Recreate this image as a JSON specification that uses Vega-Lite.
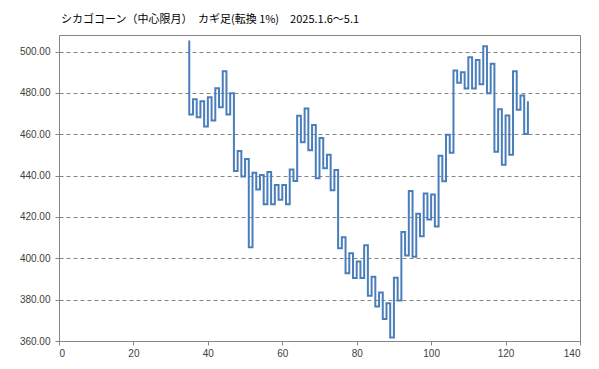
{
  "$schema": "https://vega.github.io/schema/vega-lite/v6.json",
  "autosize": {"type": "none"},
  "width": 521,
  "height": 306,
  "padding": {"left": 59, "top": 35, "right": 19, "bottom": 28},
  "background": "white",
  "title": {
    "text": "シカゴコーン（中心限月）　カギ足(転換 1%)　2025.1.6～5.1",
    "anchor": "start",
    "frame": "group",
    "offset": 10,
    "font": "Noto Sans CJK JP",
    "fontSize": 11,
    "fontWeight": "normal",
    "color": "#000000",
    "dx": 2
  },
  "config": {
    "view": {"stroke": "#868686", "strokeWidth": 1},
    "axis": {
      "labelFont": "Liberation Sans",
      "labelFontSize": 10,
      "labelColor": "#404040",
      "tickColor": "#868686",
      "domainColor": "#868686",
      "tickSize": 4,
      "title": null
    }
  },
  "data": {
    "values": [
      {"i": 0, "x": 35, "p": 505.3},
      {"i": 1, "x": 35, "p": 469.5},
      {"i": 2, "x": 36, "p": 476.9},
      {"i": 3, "x": 37, "p": 468.2},
      {"i": 4, "x": 38, "p": 475.9},
      {"i": 5, "x": 39, "p": 463.8},
      {"i": 6, "x": 40, "p": 477.9},
      {"i": 7, "x": 41, "p": 466.6},
      {"i": 8, "x": 42, "p": 482.2},
      {"i": 9, "x": 43, "p": 473.0},
      {"i": 10, "x": 44, "p": 490.5},
      {"i": 11, "x": 45, "p": 469.5},
      {"i": 12, "x": 46, "p": 479.8},
      {"i": 13, "x": 47, "p": 442.2},
      {"i": 14, "x": 48, "p": 451.9},
      {"i": 15, "x": 49, "p": 439.6},
      {"i": 16, "x": 50, "p": 448.0},
      {"i": 17, "x": 51, "p": 405.4},
      {"i": 18, "x": 52, "p": 441.4},
      {"i": 19, "x": 53, "p": 433.3},
      {"i": 20, "x": 54, "p": 440.3},
      {"i": 21, "x": 55, "p": 426.1},
      {"i": 22, "x": 56, "p": 441.7},
      {"i": 23, "x": 57, "p": 426.1},
      {"i": 24, "x": 58, "p": 435.4},
      {"i": 25, "x": 59, "p": 428.3},
      {"i": 26, "x": 60, "p": 435.4},
      {"i": 27, "x": 61, "p": 426.1},
      {"i": 28, "x": 62, "p": 442.9},
      {"i": 29, "x": 63, "p": 437.4},
      {"i": 30, "x": 64, "p": 469.0},
      {"i": 31, "x": 65, "p": 456.1},
      {"i": 32, "x": 66, "p": 472.4},
      {"i": 33, "x": 67, "p": 452.2},
      {"i": 34, "x": 68, "p": 464.5},
      {"i": 35, "x": 69, "p": 438.7},
      {"i": 36, "x": 70, "p": 458.2},
      {"i": 37, "x": 71, "p": 443.5},
      {"i": 38, "x": 72, "p": 450.1},
      {"i": 39, "x": 73, "p": 432.9},
      {"i": 40, "x": 74, "p": 442.7},
      {"i": 41, "x": 75, "p": 404.9},
      {"i": 42, "x": 76, "p": 410.2},
      {"i": 43, "x": 77, "p": 392.8},
      {"i": 44, "x": 78, "p": 402.4},
      {"i": 45, "x": 79, "p": 390.5},
      {"i": 46, "x": 80, "p": 398.5},
      {"i": 47, "x": 81, "p": 390.5},
      {"i": 48, "x": 82, "p": 406.3},
      {"i": 49, "x": 83, "p": 381.9},
      {"i": 50, "x": 84, "p": 391.1},
      {"i": 51, "x": 85, "p": 376.7},
      {"i": 52, "x": 86, "p": 383.5},
      {"i": 53, "x": 87, "p": 370.6},
      {"i": 54, "x": 88, "p": 378.2},
      {"i": 55, "x": 89, "p": 361.7},
      {"i": 56, "x": 90, "p": 390.6},
      {"i": 57, "x": 91, "p": 379.6},
      {"i": 58, "x": 92, "p": 412.7},
      {"i": 59, "x": 93, "p": 401.4},
      {"i": 60, "x": 94, "p": 432.6},
      {"i": 61, "x": 95, "p": 400.7},
      {"i": 62, "x": 96, "p": 421.6},
      {"i": 63, "x": 97, "p": 410.7},
      {"i": 64, "x": 98, "p": 431.3},
      {"i": 65, "x": 99, "p": 418.8},
      {"i": 66, "x": 100, "p": 430.8},
      {"i": 67, "x": 101, "p": 415.4},
      {"i": 68, "x": 102, "p": 449.6},
      {"i": 69, "x": 103, "p": 437.3},
      {"i": 70, "x": 104, "p": 459.8},
      {"i": 71, "x": 105, "p": 451.0},
      {"i": 72, "x": 106, "p": 490.8},
      {"i": 73, "x": 107, "p": 484.9},
      {"i": 74, "x": 108, "p": 490.0},
      {"i": 75, "x": 109, "p": 482.1},
      {"i": 76, "x": 110, "p": 497.2},
      {"i": 77, "x": 111, "p": 482.1},
      {"i": 78, "x": 112, "p": 495.9},
      {"i": 79, "x": 113, "p": 484.2},
      {"i": 80, "x": 114, "p": 502.6},
      {"i": 81, "x": 115, "p": 479.8},
      {"i": 82, "x": 116, "p": 494.1},
      {"i": 83, "x": 117, "p": 451.5},
      {"i": 84, "x": 118, "p": 472.1},
      {"i": 85, "x": 119, "p": 445.2},
      {"i": 86, "x": 120, "p": 469.1},
      {"i": 87, "x": 121, "p": 450.1},
      {"i": 88, "x": 122, "p": 490.5},
      {"i": 89, "x": 123, "p": 471.9},
      {"i": 90, "x": 124, "p": 478.7},
      {"i": 91, "x": 125, "p": 460.1},
      {"i": 92, "x": 126, "p": 476.0}
    ]
  },
  "mark": {"type": "line", "interpolate": "step-after", "color": "#4a7ebb", "strokeWidth": 2, "clip": true},
  "encoding": {
    "x": {
      "field": "x",
      "type": "quantitative",
      "scale": {"domain": [0, 140], "nice": false, "zero": false},
      "axis": {
        "values": [0, 20, 40, 60, 80, 100, 120, 140],
        "grid": false,
        "labelPadding": 3
      }
    },
    "y": {
      "field": "p",
      "type": "quantitative",
      "scale": {"domain": [360, 508], "nice": false, "zero": false},
      "axis": {
        "values": [360, 380, 400, 420, 440, 460, 480, 500],
        "format": ".2f",
        "grid": true,
        "gridColor": "#868686",
        "gridDash": [4, 3],
        "gridWidth": 1,
        "domain": false,
        "labelPadding": 5
      }
    },
    "order": {"field": "i", "type": "quantitative"}
  }
}
